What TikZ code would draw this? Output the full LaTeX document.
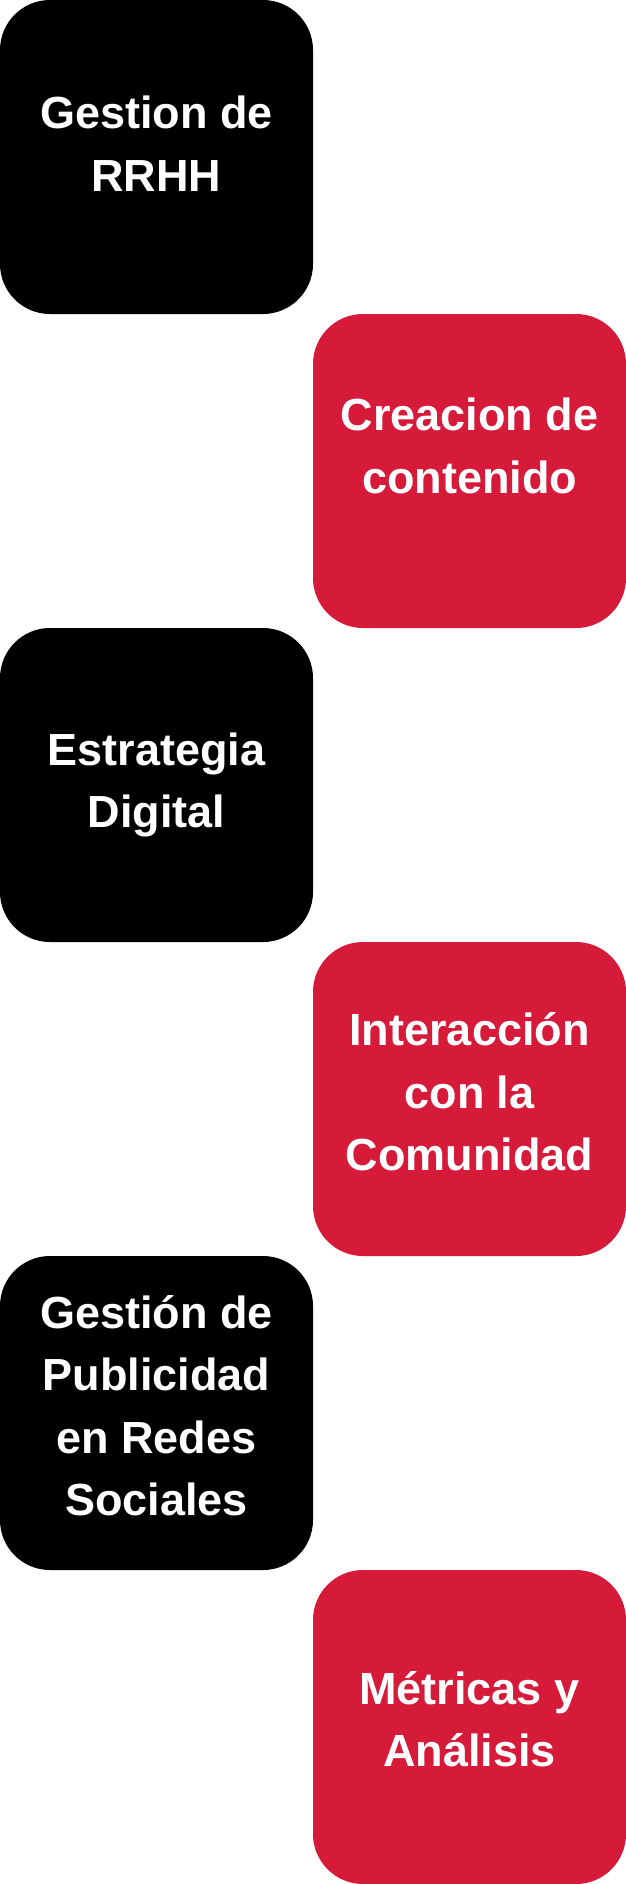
\documentclass[tikz,border=0pt]{standalone}
\usepackage{fontspec}
\setmainfont{Liberation Sans}
\usetikzlibrary{positioning}
\definecolor{tilered}{RGB}{214,26,58}

\begin{document}
\begin{tikzpicture}[
  tile/.style={rounded corners=50pt, minimum width=313pt, minimum height=314pt,
               inner sep=0pt, outer sep=0pt},
  dark/.style={tile, fill=black},
  accent/.style={tile, fill=tilered},
  caption/.style={text=white, align=center, inner sep=0pt,
                  font=\bfseries\fontsize{45}{62.5}\selectfont}
]
\useasboundingbox (0,0) rectangle (626pt,-1884pt);

% the six tiles, left and right in turn
\node[dark, anchor=north west] (rrhh) at (0,0) {};
\node[accent, below right=0pt and 0pt of rrhh] (contenido) {};
\node[dark, below left=0pt and 0pt of contenido] (estrategia) {};
\node[accent, below right=0pt and 0pt of estrategia] (comunidad) {};
\node[dark, below left=0pt and 0pt of comunidad] (publicidad) {};
\node[accent, below right=0pt and 0pt of publicidad] (metricas) {};

% their texts
\node[caption] at ([yshift=13.5pt]rrhh.center) {Gestion de\\ RRHH};
\node[caption] at ([yshift=25pt]contenido.center) {Creacion de\\ contenido};
\node[caption] at ([yshift=0pt]estrategia.center) {Estrategia\\ Digital};
\node[caption] at ([yshift=7pt]comunidad.center) {Interacción\\ con la\\ Comunidad};
\node[caption] at ([yshift=7.5pt]publicidad.center) {Gestión de\\ Publicidad\\ en Redes\\ Sociales};
\node[caption] at ([yshift=8pt]metricas.center) {Métricas y\\ Análisis};
\end{tikzpicture}
\end{document}
